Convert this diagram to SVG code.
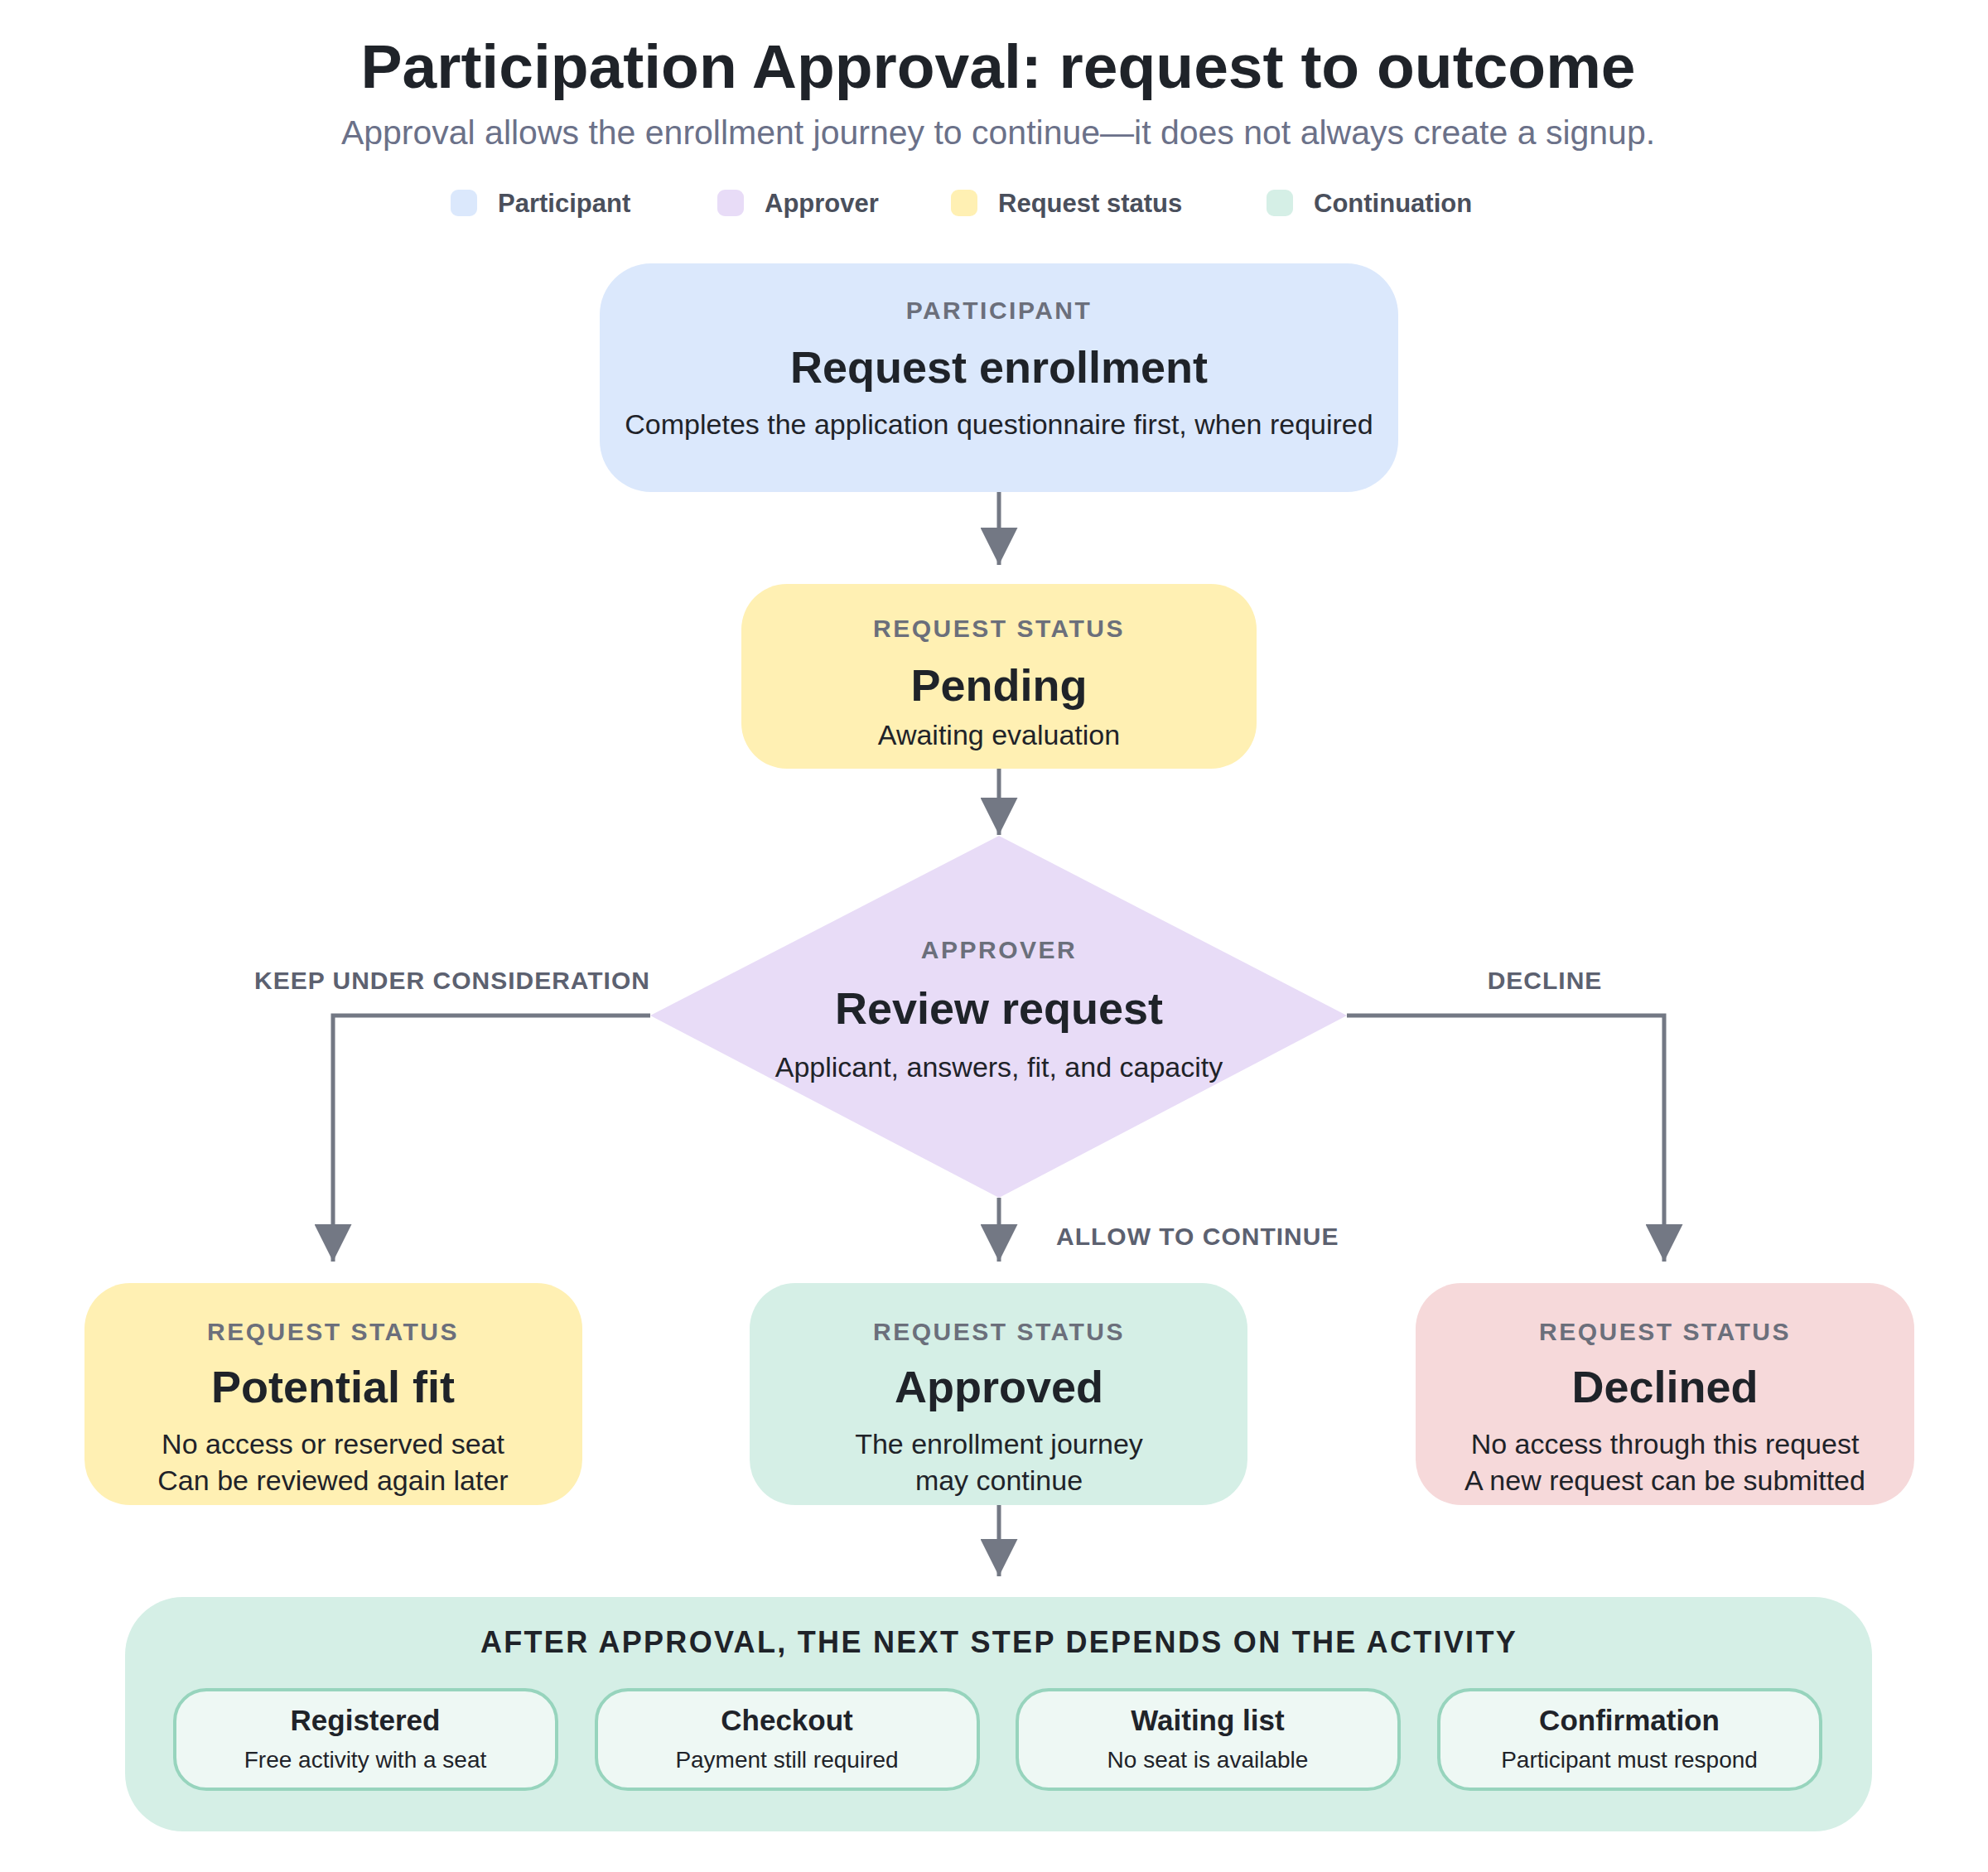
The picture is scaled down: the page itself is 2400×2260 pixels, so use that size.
<svg xmlns="http://www.w3.org/2000/svg" width="2400" height="2260" viewBox="0 0 2400 2260">
<defs>
<marker id="ah" viewBox="0 0 10 10" refX="10" refY="5" markerWidth="9" markerHeight="9" markerUnits="strokeWidth" orient="auto"><path d="M0,0 L10,5 L0,10 z" fill="#737884"/></marker>
<style>
text{font-family:"Liberation Sans",Arial,sans-serif;text-anchor:middle}
.t{font-size:75px;font-weight:bold;fill:#1f2329}
.st{font-size:41px;fill:#6b7189}
.lg{font-size:31px;font-weight:bold;fill:#4a4f5c;text-anchor:start}
.k{font-size:30px;font-weight:bold;fill:#6b6f7b;letter-spacing:2.5px}
.h{font-size:54px;font-weight:bold;fill:#1f2329}
.d{font-size:34px;fill:#1f2329}
.el{font-size:30px;font-weight:bold;fill:#5c6170;letter-spacing:1px}
.c{fill:none;stroke:#737884;stroke-width:5;marker-end:url(#ah)}
.ch{font-size:36px;font-weight:bold;fill:#1f2329;letter-spacing:2.3px}
.sb{fill:#eef8f4;stroke:#97d4bd;stroke-width:4}
.sh{font-size:35px;font-weight:bold;fill:#1f2329}
.sd{font-size:28px;fill:#1f2329}
</style>
</defs>
<rect width="2400" height="2260" fill="#fff"/>
<text class="t" x="1205" y="106">Participation Approval: request to outcome</text>
<text class="st" x="1205" y="174">Approval allows the enrollment journey to continue—it does not always create a signup.</text>
<g id="legend">
<rect x="544" y="229" width="32" height="32" rx="9" fill="#dbe8fc"/><text class="lg" x="601" y="256">Participant</text>
<rect x="866" y="229" width="32" height="32" rx="9" fill="#e8dcf7"/><text class="lg" x="923" y="256">Approver</text>
<rect x="1148" y="229" width="32" height="32" rx="9" fill="#fff0b3"/><text class="lg" x="1205" y="256">Request status</text>
<rect x="1529" y="229" width="32" height="32" rx="9" fill="#d5efe6"/><text class="lg" x="1586" y="256">Continuation</text>
</g>
<g id="connectors">
<path class="c" d="M1206,594 V682"/>
<path class="c" d="M1206,928 V1008"/>
<path class="c" d="M785,1226 H402 V1523"/>
<path class="c" d="M1626,1226 H2009 V1523"/>
<path class="c" d="M1206,1446 V1523"/>
<path class="c" d="M1206,1817 V1903"/>
<text class="el" x="546" y="1194">KEEP UNDER CONSIDERATION</text>
<text class="el" x="1865" y="1194">DECLINE</text>
<text class="el" x="1275" y="1503" style="text-anchor:start">ALLOW TO CONTINUE</text>
</g>
<g id="request">
<rect x="724" y="318" width="964" height="276" rx="62" fill="#dbe8fc"/>
<text class="k" x="1206" y="385">PARTICIPANT</text>
<text class="h" x="1206" y="462">Request enrollment</text>
<text class="d" x="1206" y="524">Completes the application questionnaire first, when required</text>
</g>
<g id="pending">
<rect x="895" y="705" width="622" height="223" rx="55" fill="#fff0b3"/>
<text class="k" x="1206" y="769">REQUEST STATUS</text>
<text class="h" x="1206" y="846">Pending</text>
<text class="d" x="1206" y="899">Awaiting evaluation</text>
</g>
<g id="review">
<polygon points="1206,1009 1626,1226 1206,1446 785,1226" fill="#e8dcf7"/>
<text class="k" x="1206" y="1157">APPROVER</text>
<text class="h" x="1206" y="1236">Review request</text>
<text class="d" x="1206" y="1300">Applicant, answers, fit, and capacity</text>
</g>
<g id="potential">
<rect x="102" y="1549" width="601" height="268" rx="55" fill="#fff0b3"/>
<text class="k" x="402" y="1618">REQUEST STATUS</text>
<text class="h" x="402" y="1693">Potential fit</text>
<text class="d" x="402" y="1755">No access or reserved seat</text>
<text class="d" x="402" y="1799">Can be reviewed again later</text>
</g>
<g id="approved">
<rect x="905" y="1549" width="601" height="268" rx="55" fill="#d5efe6"/>
<text class="k" x="1206" y="1618">REQUEST STATUS</text>
<text class="h" x="1206" y="1693">Approved</text>
<text class="d" x="1206" y="1755">The enrollment journey</text>
<text class="d" x="1206" y="1799">may continue</text>
</g>
<g id="declined">
<rect x="1709" y="1549" width="602" height="268" rx="55" fill="#f6d9da"/>
<text class="k" x="2010" y="1618">REQUEST STATUS</text>
<text class="h" x="2010" y="1693">Declined</text>
<text class="d" x="2010" y="1755">No access through this request</text>
<text class="d" x="2010" y="1799">A new request can be submitted</text>
</g>
<g id="continuation">
<rect x="151" y="1928" width="2109" height="283" rx="70" fill="#d5efe6"/>
<text class="ch" x="1206" y="1995">AFTER APPROVAL, THE NEXT STEP DEPENDS ON THE ACTIVITY</text>
<g id="registered"><rect class="sb" x="211" y="2040" width="461" height="120" rx="38"/><text class="sh" x="441" y="2089">Registered</text><text class="sd" x="441" y="2134">Free activity with a seat</text></g>
<g id="checkout"><rect class="sb" x="720" y="2040" width="461" height="120" rx="38"/><text class="sh" x="950" y="2089">Checkout</text><text class="sd" x="950" y="2134">Payment still required</text></g>
<g id="waiting"><rect class="sb" x="1228" y="2040" width="461" height="120" rx="38"/><text class="sh" x="1458" y="2089">Waiting list</text><text class="sd" x="1458" y="2134">No seat is available</text></g>
<g id="confirmation"><rect class="sb" x="1737" y="2040" width="461" height="120" rx="38"/><text class="sh" x="1967" y="2089">Confirmation</text><text class="sd" x="1967" y="2134">Participant must respond</text></g>
</g>
</svg>
